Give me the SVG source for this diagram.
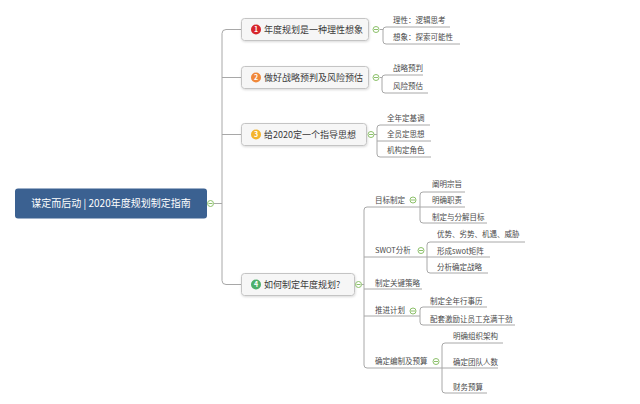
<svg xmlns="http://www.w3.org/2000/svg" width="640" height="404" viewBox="0 0 640 404">
<defs>
<style>
text{font-family:"Noto Sans CJK SC","Noto Sans",sans-serif;}
.ln{fill:none;stroke:#a8a8a8;stroke-width:1;}
.box{fill:#f6f6f6;stroke:#c4c4c4;stroke-width:1;}
.bt{font-size:9px;fill:#3a3a3a;}
.ct{font-size:7.5px;fill:#4a4a4a;}
.num{font-size:7px;fill:#fff;text-anchor:middle;font-weight:bold;}
.tog{fill:#fff;stroke:#8cc06a;stroke-width:1;}
.togm{stroke:#8cc06a;stroke-width:1;}
</style>
<filter id="sh" x="-10%" y="-20%" width="120%" height="150%">
<feDropShadow dx="0.5" dy="1" stdDeviation="0.8" flood-color="#000" flood-opacity="0.15"/>
</filter>
</defs>
<rect width="640" height="404" fill="#fff"/>

<g id="connectors">
<path class="ln" d="M214,203.5 H222"/>
<path class="ln" d="M241,29.5 H226 Q222,29.5 222,33.5 V280.5 Q222,284.5 226,284.5 H241"/>
<path class="ln" d="M222,77.5 H241"/>
<path class="ln" d="M222,134.5 H241"/>
<path class="ln" d="M380,29.5 H383"/>
<path class="ln" d="M450,27 H386 Q383,27 383,30 V41 Q383,44 386,44 H460"/>
<path class="ln" d="M380,77.5 H382"/>
<path class="ln" d="M423,75 H385 Q382,75 382,78 V90 Q382,93 385,93 H428"/>
<path class="ln" d="M374,134.5 H377"/>
<path class="ln" d="M430,125 H380 Q377,125 377,128 V154 Q377,157 380,157 H431"/>
<path class="ln" d="M377,141 H431"/>
<path class="ln" d="M362,284.5 H364"/>
<path class="ln" d="M420,207 H367 Q364,207 364,210 V365 Q364,368 367,368 H442"/>
<path class="ln" d="M364,257 H427"/>
<path class="ln" d="M364,289 H422"/>
<path class="ln" d="M364,316 H420"/>
<path class="ln" d="M465,192 H423 Q420,192 420,195 V220 Q420,223 423,223 H487"/>
<path class="ln" d="M420,207 H465"/>
<path class="ln" d="M525,242 H430 Q427,242 427,245 V270 Q427,273 430,273 H488"/>
<path class="ln" d="M427,257 H490"/>
<path class="ln" d="M487,307 H423 Q420,307 420,310 V322 Q420,325 423,325 H515"/>
<path class="ln" d="M503,343 H445 Q442,343 442,346 V390 Q442,393 445,393 H487"/>
<path class="ln" d="M442,368 H498"/>
</g>

<g id="root">
<rect x="15" y="188.5" width="192" height="30" rx="3" fill="#3b6191"/>
<text x="111" y="207" font-size="10" fill="#fff" text-anchor="middle">谋定而后动 | 2020年度规划制定指南</text>
<circle class="tog" cx="210.5" cy="203.5" r="3"/>
<path class="togm" d="M208.5,203.5 H212.5"/>
</g>

<g id="n1">
<rect class="box" x="241.5" y="18.5" width="127" height="22" rx="3" filter="url(#sh)"/>
<circle cx="256" cy="29.5" r="5" fill="#d7262c"/>
<text class="num" x="256" y="32">1</text>
<text class="bt" x="264" y="32.8">年度规划是一种理性想象</text>
<circle class="tog" cx="376" cy="29.5" r="3"/>
<path class="togm" d="M374,29.5 H378"/>
</g>
<g id="n1a"><text class="ct" x="393" y="23">理性：逻辑思考</text></g>
<g id="n1b"><text class="ct" x="393" y="40">想象：探索可能性</text></g>

<g id="n2">
<rect class="box" x="241.5" y="66.5" width="127" height="22" rx="3" filter="url(#sh)"/>
<circle cx="256" cy="77.5" r="5" fill="#f0883a"/>
<text class="num" x="256" y="80">2</text>
<text class="bt" x="264" y="80.8">做好战略预判及风险预估</text>
<circle class="tog" cx="376" cy="77.5" r="3"/>
<path class="togm" d="M374,77.5 H378"/>
</g>
<g id="n2a"><text class="ct" x="393" y="71">战略预判</text></g>
<g id="n2b"><text class="ct" x="393" y="89">风险预估</text></g>

<g id="n3">
<rect class="box" x="241.5" y="123.5" width="125" height="22" rx="3" filter="url(#sh)"/>
<circle cx="256" cy="134.5" r="5" fill="#f4b42c"/>
<text class="num" x="256" y="137">3</text>
<text class="bt" x="264" y="137.8">给2020定一个指导思想</text>
<circle class="tog" cx="371" cy="134.5" r="3"/>
<path class="togm" d="M369,134.5 H373"/>
</g>
<g id="n3a"><text class="ct" x="387" y="121">全年定基调</text></g>
<g id="n3b"><text class="ct" x="387" y="137">全员定思想</text></g>
<g id="n3c"><text class="ct" x="387" y="153">机构定角色</text></g>

<g id="n4">
<rect class="box" x="241.5" y="273.5" width="113" height="22" rx="3" filter="url(#sh)"/>
<circle cx="256" cy="284.5" r="5" fill="#4caf6a"/>
<text class="num" x="256" y="287">4</text>
<text class="bt" x="264" y="287.8">如何制定年度规划?</text>
<circle class="tog" cx="358.5" cy="284.5" r="3"/>
<path class="togm" d="M356.5,284.5 H360.5"/>
</g>

<g id="n41">
<text class="ct" x="375" y="203">目标制定</text>
<circle class="tog" cx="413" cy="200" r="3"/>
<path class="togm" d="M411,200 H415"/>
</g>
<g id="n411"><text class="ct" x="432" y="187">阐明宗旨</text></g>
<g id="n412"><text class="ct" x="432" y="203">明确职责</text></g>
<g id="n413"><text class="ct" x="432" y="220">制定与分解目标</text></g>

<g id="n42">
<text class="ct" x="375" y="253">SWOT分析</text>
<circle class="tog" cx="421" cy="250.5" r="3"/>
<path class="togm" d="M419,250.5 H423"/>
</g>
<g id="n421"><text class="ct" x="437" y="237">优势、劣势、机遇、威胁</text></g>
<g id="n422"><text class="ct" x="437" y="254">形成swot矩阵</text></g>
<g id="n423"><text class="ct" x="437" y="270">分析确定战略</text></g>

<g id="n43"><text class="ct" x="375" y="286">制定关键策略</text></g>

<g id="n44">
<text class="ct" x="375" y="313">推进计划</text>
<circle class="tog" cx="413" cy="311" r="3"/>
<path class="togm" d="M411,311 H415"/>
</g>
<g id="n441"><text class="ct" x="430" y="304">制定全年行事历</text></g>
<g id="n442"><text class="ct" x="430" y="322">配套激励让员工充满干劲</text></g>

<g id="n45">
<text class="ct" x="375" y="364">确定编制及预算</text>
<circle class="tog" cx="436" cy="361.5" r="3"/>
<path class="togm" d="M434,361.5 H438"/>
</g>
<g id="n451"><text class="ct" x="453" y="339">明确组织架构</text></g>
<g id="n452"><text class="ct" x="453" y="365">确定团队人数</text></g>
<g id="n453"><text class="ct" x="453" y="390">财务预算</text></g>
</svg>
